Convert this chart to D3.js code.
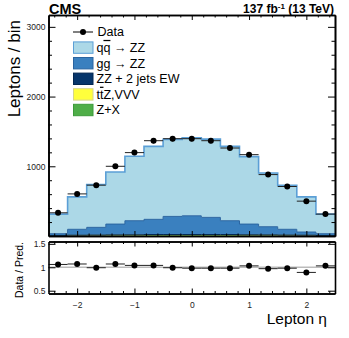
<!DOCTYPE html>
<meta charset="utf-8">
<script src="https://d3js.org/d3.v7.min.js"></script>
<style>
body { margin: 0; background: #fff; }
text { font-family: "Liberation Sans", Arial, sans-serif; }
.tk text { font-size: 8.5px; fill: #222; }
.tk path.domain { stroke: #000; stroke-width: 1.6; }
.tk line { stroke: #000; }
.bar { text-decoration: overline; }
</style>
<div id="my_dataviz"></div>
<script>
// binning in lepton eta (15 bins of width 1/3)
var etaEdges = [-2.5, -2.1667, -1.8333, -1.5, -1.1667, -0.8333, -0.5, -0.1667,
                0.1667, 0.5, 0.8333, 1.1667, 1.5, 1.8333, 2.1667, 2.5];

// observed and predicted yields per bin
var dataCounts = [333, 604, 729, 1000, 1196, 1367, 1396, 1396, 1367, 1262, 1167, 881, 710, 500, 314];
var qqZZ   = [281, 465, 614, 748, 924, 1047, 1105, 1120, 1123, 1067, 968, 771, 633, 504, 281];
var ggZZ   = [25, 84, 110, 154, 201, 218, 260, 269, 246, 198, 153, 116, 82, 45, 25];
var ewZZ   = [2, 3, 3, 4, 4, 5, 5, 5, 5, 5, 4, 4, 3, 3, 2];
var ttzVVV = [2, 3, 4, 5, 5, 6, 6, 6, 6, 6, 5, 5, 4, 3, 2];
var zPlusX = [4, 6, 7, 8, 9, 10, 10, 10, 10, 10, 9, 8, 7, 6, 4];

// data / prediction
var ratio = [1.06, 1.07, 0.99, 1.07, 1.04, 1.04, 0.99, 0.98, 0.98, 0.98, 1.03, 0.97, 0.98, 0.89, 1.03];

var yTicksMain = [1000, 2000, 3000];
var yTicksRatio = [0.5, 1, 1.5];
var xTicks = [-2, -1, 0, 1, 2];

// label parts: [text, overlined?]
var procs = [
  {key: "zx",  label: [["Z+X", 0]],                         fill: "#4fae48", stroke: "#3c9a3a", vals: zPlusX},
  {key: "ttz", label: [["t", 0], ["t", 1], ["Z,VVV", 0]],   fill: "#ffff3c", stroke: "#d6d68a", vals: ttzVVV},
  {key: "ew",  label: [["ZZ + 2 jets EW", 0]],              fill: "#06356b", stroke: "#022650", vals: ewZZ},
  {key: "gg",  label: [["gg \u2192 ZZ", 0]],                fill: "#3a80bf", stroke: "#2a64a0", vals: ggZZ},
  {key: "qq",  label: [["q", 0], ["q", 1], [" \u2192 ZZ", 0]], fill: "#acd8e7", stroke: "#5b9fd6", vals: qqZZ}
];

var W = 349, H = 338;
var xL = 48.5, xR = 335;
var mainTop = 15, mainBot = 236;
var ratTop = 241.5, ratBot = 293.5;

var svg = d3.select("#my_dataviz").append("svg")
  .attr("width", W).attr("height", H);

var x = d3.scaleLinear().domain([-2.5, 2.5]).range([xL, xR]);
var y = d3.scaleLinear().domain([0, 3170]).range([mainBot, mainTop]);
var yr = d3.scaleLinear().domain([0.44, 1.55]).range([ratBot, ratTop]);

// stack table
var table = dataCounts.map(function(d, i) {
  var row = {lo: etaEdges[i], hi: etaEdges[i + 1]};
  procs.forEach(function(p) { row[p.key] = p.vals[i]; });
  return row;
});
var stacked = d3.stack().keys(procs.map(function(p) { return p.key; }))(table);

var main = svg.append("g");

function stepPts(layer) {
  var pts = [];
  layer.forEach(function(s, i) {
    pts.push({x: table[i].lo, y0: s[0], y1: s[1]});
    pts.push({x: table[i].hi, y0: s[0], y1: s[1]});
  });
  return pts;
}
var area = d3.area().x(function(d) { return x(d.x); })
  .y0(function(d) { return y(d.y0); }).y1(function(d) { return y(d.y1); });
var topLine = d3.line().x(function(d) { return x(d.x); })
  .y(function(d) { return y(d.y1); });

stacked.forEach(function(layer, k) {
  var p = procs[k], pts = stepPts(layer);
  main.append("path").attr("d", area(pts)).attr("fill", p.fill);
});
stacked.forEach(function(layer, k) {
  var p = procs[k], pts = stepPts(layer);
  main.append("path").attr("d", topLine(pts)).attr("fill", "none")
    .attr("stroke", p.stroke).attr("stroke-width", p.key == "qq" ? 1.6 : 1);
});

// data points
var pts = main.selectAll(".dp").data(dataCounts).enter().append("g");
pts.append("line")
  .attr("x1", function(d, i) { return x(etaEdges[i]); })
  .attr("x2", function(d, i) { return x(etaEdges[i + 1]); })
  .attr("y1", function(d) { return y(d); }).attr("y2", function(d) { return y(d); })
  .attr("stroke", "#222").attr("stroke-width", 1);
pts.append("line")
  .attr("x1", function(d, i) { return x((etaEdges[i] + etaEdges[i + 1]) / 2); })
  .attr("x2", function(d, i) { return x((etaEdges[i] + etaEdges[i + 1]) / 2); })
  .attr("y1", function(d) { return y(d - Math.sqrt(d)); })
  .attr("y2", function(d) { return y(d + Math.sqrt(d)); })
  .attr("stroke", "#000").attr("stroke-width", 1);
pts.append("circle")
  .attr("cx", function(d, i) { return x((etaEdges[i] + etaEdges[i + 1]) / 2); })
  .attr("cy", function(d) { return y(d); })
  .attr("r", 3).attr("fill", "#000");

// main axes
function minor(lo, hi, step, majors) {
  return d3.range(lo, hi, step).filter(function(v) {
    return !majors.some(function(m) { return Math.abs(m - v) < 1e-6; });
  });
}
var yMinor = minor(200, 3170, 200, yTicksMain);
var xMinor = minor(-2.4, 2.45, 0.2, xTicks);

svg.append("g").attr("class", "tk").attr("transform", "translate(" + xL + ",0)")
  .call(d3.axisLeft(y).tickValues(yTicksMain).tickSizeInner(-7).tickSizeOuter(0).tickPadding(3)
    .tickFormat(d3.format("d")));
svg.append("g").attr("class", "tk").attr("transform", "translate(" + xL + ",0)")
  .call(d3.axisLeft(y).tickValues(yMinor).tickSizeInner(-3.5).tickSizeOuter(0).tickFormat(""));
svg.append("g").attr("class", "tk").attr("transform", "translate(" + xR + ",0)")
  .call(d3.axisRight(y).tickValues(yTicksMain).tickSizeInner(-7).tickSizeOuter(0).tickFormat(""));
svg.append("g").attr("class", "tk").attr("transform", "translate(" + xR + ",0)")
  .call(d3.axisRight(y).tickValues(yMinor).tickSizeInner(-3.5).tickSizeOuter(0).tickFormat(""));
[[mainBot, d3.axisBottom], [mainTop, d3.axisTop]].forEach(function(a) {
  svg.append("g").attr("class", "tk").attr("transform", "translate(0," + a[0] + ")")
    .call(a[1](x).tickValues(xTicks).tickSizeInner(-5).tickSizeOuter(0).tickFormat(""));
  svg.append("g").attr("class", "tk").attr("transform", "translate(0," + a[0] + ")")
    .call(a[1](x).tickValues(xMinor).tickSizeInner(-2.5).tickSizeOuter(0).tickFormat(""));
});

// ratio panel
var rp = svg.append("g");
rp.append("line").attr("x1", xL).attr("x2", xR)
  .attr("y1", yr(1)).attr("y2", yr(1))
  .attr("stroke", "#777").attr("stroke-width", 1.3).attr("stroke-dasharray", "1,1");
var rpts = rp.selectAll(".rp").data(ratio).enter().append("g");
rpts.append("line")
  .attr("x1", function(d, i) { return x(etaEdges[i]); })
  .attr("x2", function(d, i) { return x(etaEdges[i + 1]); })
  .attr("y1", function(d) { return yr(d); }).attr("y2", function(d) { return yr(d); })
  .attr("stroke", "#222").attr("stroke-width", 1);
rpts.append("circle")
  .attr("cx", function(d, i) { return x((etaEdges[i] + etaEdges[i + 1]) / 2); })
  .attr("cy", function(d) { return yr(d); })
  .attr("r", 3).attr("fill", "#000");

svg.append("g").attr("class", "tk").attr("transform", "translate(" + xL + ",0)")
  .call(d3.axisLeft(yr).tickValues(yTicksRatio).tickSizeInner(-7).tickSizeOuter(0).tickPadding(3)
    .tickFormat(d3.format("")));
svg.append("g").attr("class", "tk").attr("transform", "translate(" + xR + ",0)")
  .call(d3.axisRight(yr).tickValues(yTicksRatio).tickSizeInner(-7).tickSizeOuter(0).tickFormat(""));
svg.append("g").attr("class", "tk").attr("transform", "translate(0," + ratBot + ")")
  .call(d3.axisBottom(x).tickValues(xTicks).tickSizeInner(-5).tickSizeOuter(0).tickPadding(8)
    .tickFormat(function(d) { return d < 0 ? "\u2212" + Math.abs(d) : d; }));
svg.append("g").attr("class", "tk").attr("transform", "translate(0," + ratBot + ")")
  .call(d3.axisBottom(x).tickValues(xMinor).tickSizeInner(-2.5).tickSizeOuter(0).tickFormat(""));
svg.append("g").attr("class", "tk").attr("transform", "translate(0," + ratTop + ")")
  .call(d3.axisTop(x).tickValues(xTicks).tickSizeInner(-5).tickSizeOuter(0).tickFormat(""));
svg.append("g").attr("class", "tk").attr("transform", "translate(0," + ratTop + ")")
  .call(d3.axisTop(x).tickValues(xMinor).tickSizeInner(-2.5).tickSizeOuter(0).tickFormat(""));

// labels
svg.append("text").attr("x", xL + 0.5).attr("y", 13.5)
  .style("font-size", "14.5px").style("font-weight", "bold").text("CMS");
var lumi = svg.append("text").attr("x", xR - 1).attr("y", 13).attr("text-anchor", "end")
  .style("font-size", "12px").style("font-weight", "bold");
lumi.append("tspan").text("137 fb");
lumi.append("tspan").attr("dy", -4.5).style("font-size", "8px").text("-1");
lumi.append("tspan").attr("dy", 4.5).text(" (13 TeV)");

svg.append("text").attr("transform", "translate(19.5,20) rotate(-90)")
  .attr("text-anchor", "end").style("font-size", "17px").text("Leptons / bin");
svg.append("text").attr("transform", "translate(22.5,270) rotate(-90)")
  .attr("text-anchor", "middle").style("font-size", "10.5px").text("Data / Pred.");
svg.append("text").attr("x", 327).attr("y", 324).attr("text-anchor", "end")
  .style("font-size", "15.5px").text("Lepton \u03b7");

// legend
var leg = svg.append("g");
var legY0 = 32, legDy = 15.6;
leg.append("line").attr("x1", 73).attr("x2", 93).attr("y1", legY0).attr("y2", legY0)
  .attr("stroke", "#000").attr("stroke-width", 1);
leg.append("circle").attr("cx", 83).attr("cy", legY0).attr("r", 3).attr("fill", "#000");
leg.append("text").attr("x", 97.5).attr("y", legY0 + 4.3).style("font-size", "12.5px").text("Data");
procs.slice().reverse().forEach(function(p, i) {
  var cy = legY0 + legDy * (i + 1);
  leg.append("rect").attr("x", 73.5).attr("y", cy - 5.7).attr("width", 19.5).attr("height", 11.4)
    .attr("fill", p.fill).attr("stroke", p.stroke).attr("stroke-width", 1);
  var t = leg.append("text").attr("x", 96.5).attr("y", cy + 4.3).style("font-size", "12.5px");
  p.label.forEach(function(part) {
    t.append("tspan").attr("class", part[1] ? "bar" : null).text(part[0]);
  });
});
</script>
